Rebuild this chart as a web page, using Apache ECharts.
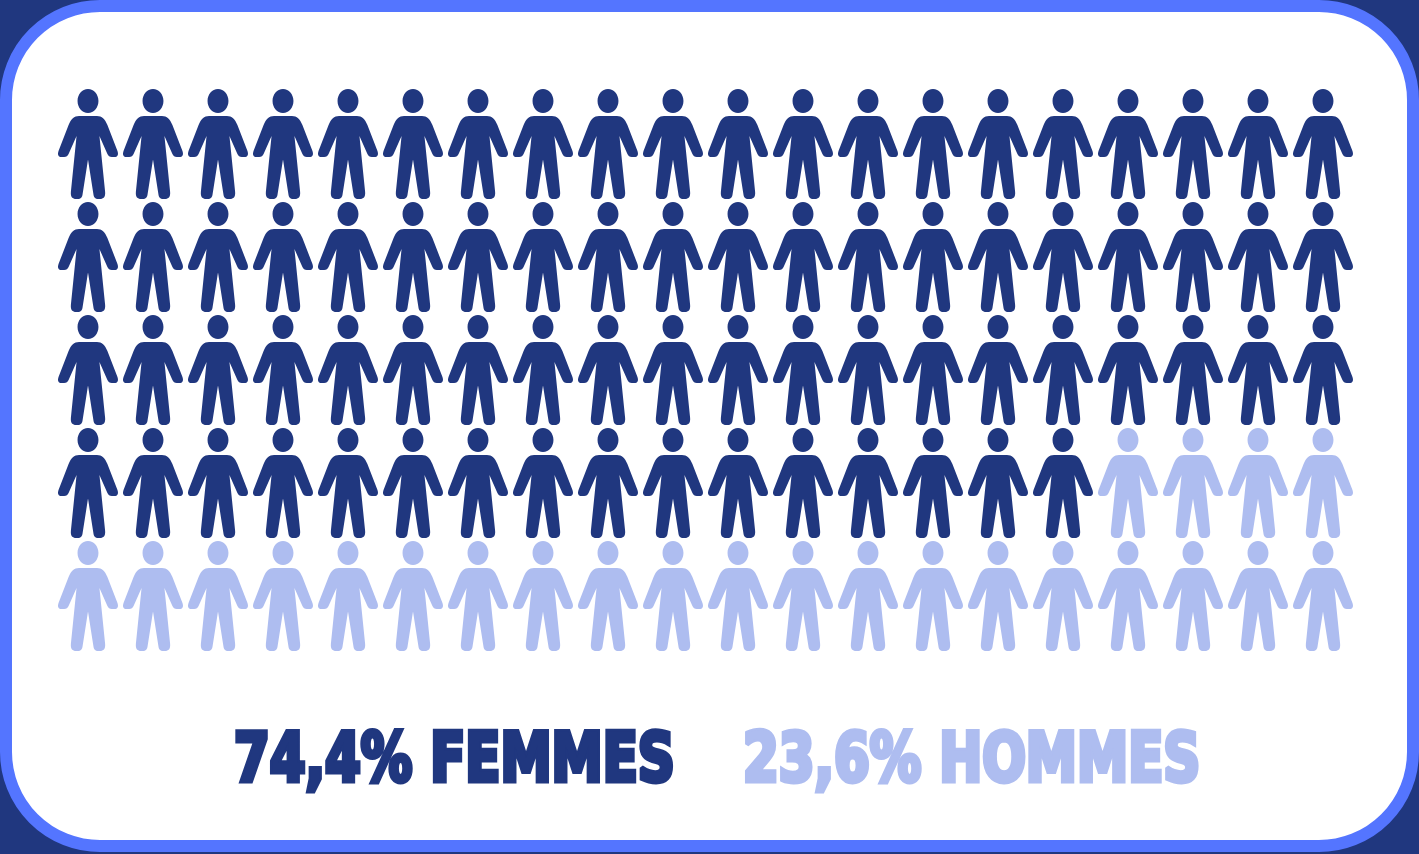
<!DOCTYPE html>
<html><head><meta charset="utf-8">
<style>html,body{margin:0;padding:0;background:#20377F;overflow:hidden}#c{width:1419px;height:854px}</style>
<script src="https://cdn.jsdelivr.net/npm/echarts@6/dist/echarts.min.js"></script>
</head><body><div id="c"></div>
<script>
const labels = ['74,4% FEMMES', '23,6% HOMMES'];
const rowIndex = [0, 1, 2, 3, 4];
const darkPerRow = [20, 20, 20, 16, 0];
const columns = [0,1,2,3,4,5,6,7,8,9,10,11,12,13,14,15,16,17,18,19];
const DARK = '#20377F', LIGHT = '#AEBDF0', BLUE = '#5475FF';
const person = 'path://M30 0C36 0 40.5 5.5 40.5 12C40.5 18.5 36 24 30 24C24 24 19.5 18.5 19.5 12C19.5 5.5 24 0 30 0Z' +
 'M21 27L39 27C44 27 47 30 49.5 36L59.6 62C61 66 59.5 68 56.5 68L54 68C51.5 68 50.5 67 49.5 65L41.5 47L47.2 103C47.6 108 45.5 110 42 110L40.5 110C37 110 35.9 108.5 35.4 105L30 70.5L24.6 105C24.1 108.5 23 110 19.5 110L18 110C14.5 110 12.4 108 12.8 103L18.5 47L10.5 65C9.5 67 8.5 68 6 68L3.5 68C0.5 68 -1 66 0.4 62L10.5 36C13 30 16 27 21 27Z';
const darkData = [], lightData = [];
rowIndex.forEach(r => columns.forEach(c => (c < darkPerRow[r] ? darkData : lightData).push([c, r])));
const mark = (data, color) => ({type:'scatter', data, symbol:person, symbolSize:[60,110], silent:true, animation:false, itemStyle:{color, opacity:1}});
const txt = (text, x, color, sx) => ({type:'text', x, y:729, scaleX:sx, scaleY:1, z:10, silent:true,
  style:{text, x:0, y:0, fill:color, stroke:color, lineWidth:5, lineJoin:'round', font:'bold 68px "DejaVu Sans Condensed", "DejaVu Sans"'}});
const chart = echarts.init(document.getElementById('c'));
chart.setOption({
  animation:false,
  backgroundColor:DARK,
  grid:{left:88, right:96, top:144, bottom:258},
  xAxis:{type:'value', min:0, max:19, interval:1, show:false},
  yAxis:{type:'value', min:0, max:4, interval:1, inverse:true, show:false},
  series:[mark(darkData, DARK), mark(lightData, LIGHT)],
  graphic:[
    {type:'rect', z:-1, silent:true, shape:{x:6, y:6, width:1407, height:840, r:94}, style:{fill:'#fff', stroke:BLUE, lineWidth:12}},
    txt(labels[0], 234, DARK, 0.84), txt(labels[1], 743, LIGHT, 0.84)
  ]
});
</script></body></html>
